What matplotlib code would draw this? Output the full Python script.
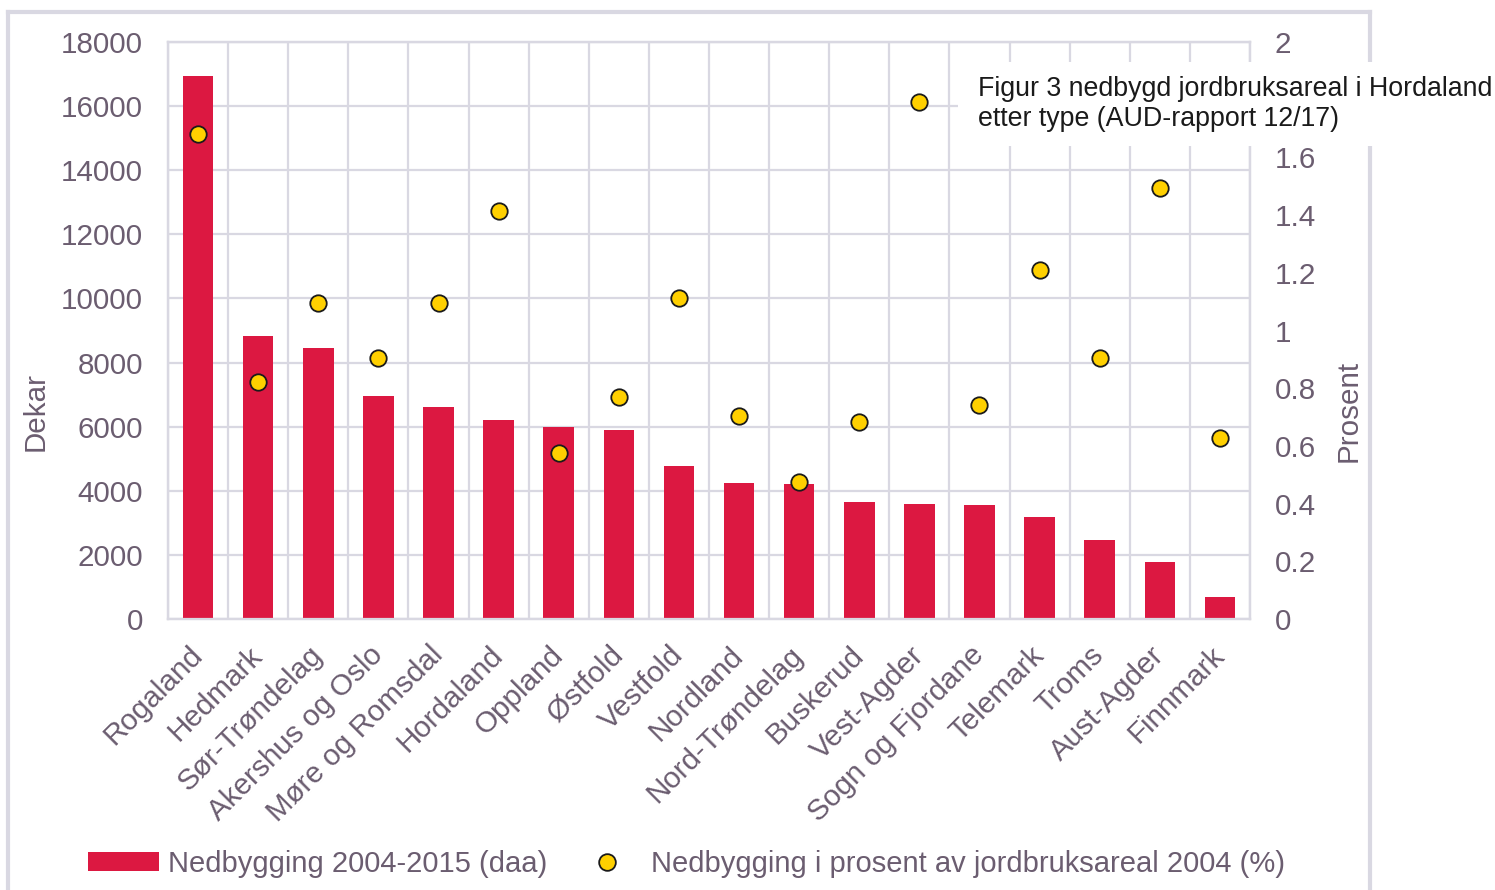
"""
Nedbygging av jordbruksareal per fylke 2004-2015, stolper (daa) og prikker (%).
"""
import matplotlib

matplotlib.use("Agg", force=True)
import matplotlib.pyplot as plt
import matplotlib.transforms as mtransforms
from matplotlib.lines import Line2D
from matplotlib.patches import Patch, Rectangle
import numpy as np

counties = [
    "Rogaland", "Hedmark", "Sør-Trøndelag", "Akershus og Oslo", "Møre og Romsdal",
    "Hordaland", "Oppland", "Østfold", "Vestfold", "Nordland", "Nord-Trøndelag",
    "Buskerud", "Vest-Agder", "Sogn og Fjordane", "Telemark", "Troms",
    "Aust-Agder", "Finnmark",
]
dekar = [16950, 8830, 8450, 6960, 6610, 6210, 5990, 5900, 4770, 4240, 4210,
         3650, 3590, 3560, 3180, 2460, 1780, 690]
prosent = [1.68, 0.82, 1.095, 0.905, 1.095, 1.414, 0.575, 0.77, 1.113, 0.704,
           0.475, 0.683, 1.792, 0.742, 1.21, 0.905, 1.494, 0.627]
left_ticks = list(range(0, 18001, 2000))
right_ticks = [0, 0.2, 0.4, 0.6, 0.8, 1, 1.2, 1.4, 1.6, 1.8, 2]

BAR = "#dc1841"
DOT = "#ffd000"
TXT = "#6b5d70"
GRID = "#d9d8e2"
FS = 21.3

plt.rcParams["font.family"] = ["Liberation Sans", "DejaVu Sans"]

W, H = 1495, 890
fig = plt.figure(figsize=(W / 100, H / 100), dpi=100)
ax = fig.add_axes([168 / W, 1 - 619 / H, (1250 - 168) / W, (619 - 42) / H])
ax2 = ax.twinx()

x = np.arange(len(counties))
ax.bar(x, dekar, width=0.51, color=BAR, zorder=3)
ax2.scatter(x, prosent, s=140, color=DOT, edgecolor="#1a1a1a", linewidth=1.3, zorder=4)

ax.set_xlim(-0.5, len(counties) - 0.5)
ax.set_ylim(0, 18000)
ax2.set_ylim(0, 2)
ax.set_yticks(left_ticks)
ax.set_yticklabels([str(v) for v in left_ticks])
ax2.set_yticks(right_ticks)
# 1.8 sits behind the caption box in the original
ax2.set_yticklabels(["" if v == 1.8 else f"{v:g}" for v in right_ticks])

ax.set_xticks(x)
ax.set_xticklabels(counties, rotation=45, ha="right", va="center", rotation_mode="anchor")
ax.set_xticks(np.arange(len(counties) + 1) - 0.5, minor=True)
shift = mtransforms.ScaledTranslation(5 / 100, 0, fig.dpi_scale_trans)
for lbl in ax.get_xticklabels():
    lbl.set_transform(lbl.get_transform() + shift)

ax.grid(True, axis="y", which="major", color=GRID, linewidth=1.6, zorder=0)
ax.grid(True, axis="x", which="minor", color=GRID, linewidth=1.6, zorder=0)
ax.set_axisbelow(True)

for a in (ax, ax2):
    for sp in a.spines.values():
        sp.set_color(GRID)
        sp.set_linewidth(1.6)
    a.tick_params(which="both", length=0, colors=TXT, labelsize=FS)
ax.tick_params(axis="y", pad=18)
ax2.tick_params(axis="y", pad=18)
ax.tick_params(axis="x", pad=23)

ax.set_ylabel("Dekar", color=TXT, fontsize=FS)
ax.yaxis.set_label_coords(-0.109, 0.36)
ax2.set_ylabel("Prosent", color=TXT, fontsize=FS)
ax2.yaxis.set_label_coords(1.078, 0.36)

# outer frame
for xs, ys in [((8 / W, 8 / W), (0, 1 - 12 / H)),
               ((8 / W, 1370 / W), (1 - 12 / H, 1 - 12 / H)),
               ((1370 / W, 1370 / W), (0, 1 - 12 / H))]:
    fig.add_artist(Line2D(xs, ys, color=GRID, linewidth=3, transform=fig.transFigure))

# caption box on top
fig.add_artist(Rectangle((958 / W, 1 - 146 / H), 1 - 958 / W, 84 / H, facecolor="white",
                         edgecolor="none", transform=fig.transFigure, zorder=5))
fig.text(978 / W, 1 - 104 / H, "Figur 3 nedbygd jordbruksareal i Hordaland\netter type (AUD-rapport 12/17)",
         fontsize=19.3, color="#1a1a1a", va="center", ha="left", linespacing=1.18, zorder=6)

handles = [
    Patch(facecolor=BAR, edgecolor="none", label="Nedbygging 2004-2015 (daa)"),
    Line2D([], [], linestyle="none", marker="o", markersize=12, markerfacecolor=DOT,
           markeredgecolor="#1a1a1a", markeredgewidth=1.3,
           label="Nedbygging i prosent av jordbruksareal 2004 (%)"),
]
leg = fig.legend(handles=handles, loc="center left", bbox_to_anchor=(88 / W, 1 - 864 / H),
                 ncol=2, frameon=False, fontsize=21, handlelength=2.45, handleheight=0.6,
                 handletextpad=0.28, columnspacing=0.85, borderpad=0, borderaxespad=0)
for t in leg.get_texts():
    t.set_color(TXT)

fig.savefig("out.png", dpi=100)
